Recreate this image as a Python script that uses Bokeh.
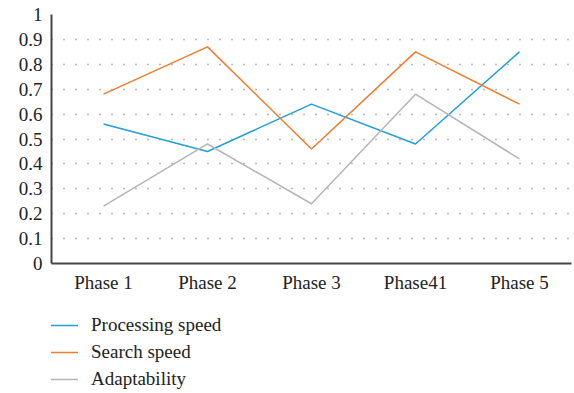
from bokeh.plotting import figure
from bokeh.models import Legend, LegendItem, FactorRange, Range1d, FixedTicker
from bokeh.layouts import column
from bokeh.embed import file_html
from bokeh.resources import INLINE

phases = ["Phase 1", "Phase 2", "Phase 3", "Phase41", "Phase 5"]
processing = [0.56, 0.45, 0.64, 0.48, 0.85]
search = [0.68, 0.87, 0.46, 0.85, 0.64]
adaptability = [0.23, 0.48, 0.24, 0.68, 0.42]
y_ticks = [0, 0.1, 0.2, 0.3, 0.4, 0.5, 0.6, 0.7, 0.8, 0.9, 1]
series_names = ["Processing speed", "Search speed", "Adaptability"]
series_colors = ["#1f9fdc", "#f47b2e", "#b5b5b5"]
series_values = [processing, search, adaptability]

FONT = "Liberation Serif"

p = figure(width=572, height=300, x_range=FactorRange(*phases, range_padding=0),
           y_range=Range1d(0, 1), output_backend="svg", toolbar_location=None,
           min_border_left=51, min_border_right=1, min_border_top=14, min_border_bottom=37)
p.x_range.factor_padding = 0
p.outline_line_color = None
p.background_fill_color = "white"

for vals, col in zip(series_values, series_colors):
    p.line(phases, vals, line_color=col, line_width=1.5)

p.xgrid.grid_line_color = None
p.ygrid.grid_line_color = "#777777"
p.ygrid.grid_line_dash = "1 11"
p.ygrid.grid_line_width = 1.3
p.ygrid.ticker = FixedTicker(ticks=y_ticks[1:])

p.yaxis.ticker = FixedTicker(ticks=y_ticks)
p.yaxis.major_label_overrides = {0: "0", 1: "1"}
for ax in (p.xaxis[0], p.yaxis[0]):
    ax.axis_line_color = "#444444"
    ax.axis_line_width = 2
    ax.major_tick_line_color = None
    ax.minor_tick_line_color = None
    ax.major_tick_out = 0
    ax.major_tick_in = 0
    ax.major_label_text_font = FONT
    ax.major_label_text_font_size = "19px"
    ax.major_label_text_color = "#222222"
p.yaxis.major_label_standoff = 9
p.xaxis.major_label_standoff = 8

# legend panel (same series, drawn outside its visible y range so only the legend shows)
lg = figure(width=572, height=92, output_backend="svg", toolbar_location=None,
            x_axis_location=None, y_axis_location=None,
            min_border_left=51, min_border_right=1, min_border_top=0, min_border_bottom=0,
            x_range=FactorRange(*phases, range_padding=0), y_range=Range1d(10, 11))
lg.outline_line_color = None
lg.grid.grid_line_color = None
items = []
for name, vals, col in zip(series_names, series_values, series_colors):
    r = lg.line(phases, vals, line_color=col, line_width=1.5)
    items.append(LegendItem(label=name, renderers=[r]))
legend = Legend(items=items, location=(-4, 2), orientation="vertical",
                label_text_font=FONT, label_text_font_size="19px", label_text_color="#222222",
                glyph_width=31, glyph_height=14, label_height=14, spacing=5,
                label_standoff=13, padding=0, margin=0,
                border_line_color=None, background_fill_alpha=0)
lg.add_layout(legend)

open("out.html", "w").write(file_html(column(p, lg, spacing=0), INLINE))
